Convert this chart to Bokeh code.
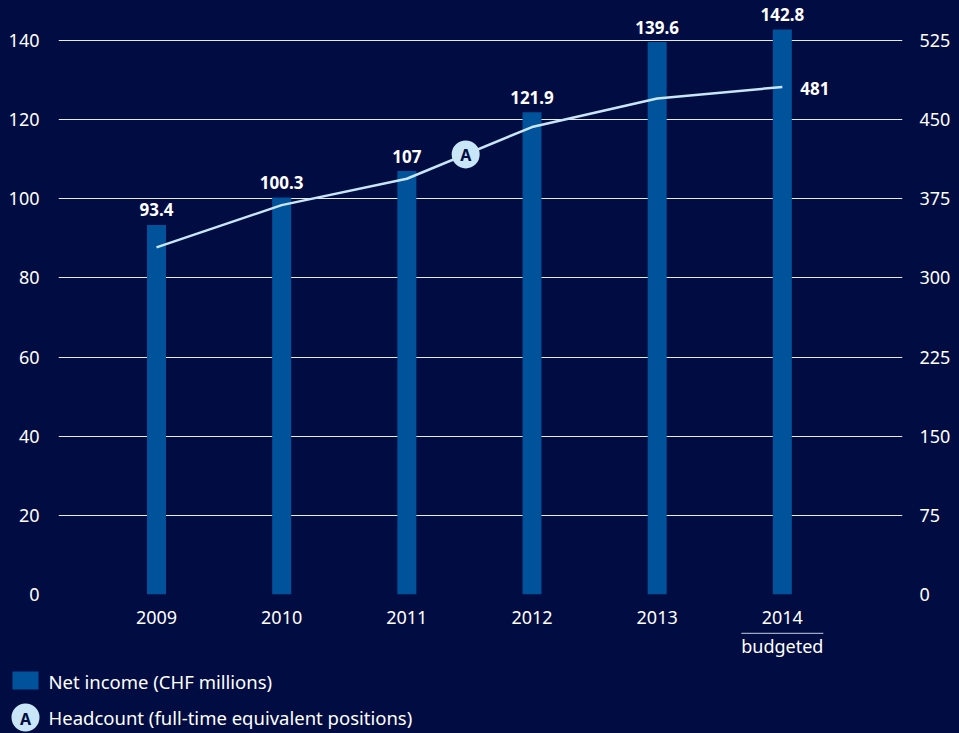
import numpy as np
from bokeh.plotting import figure
from bokeh.models import Range1d, LinearAxis, FixedTicker, Label, GlobalInlineStyleSheet
from bokeh.layouts import column
from bokeh.embed import file_html
from bokeh.resources import INLINE
from bokeh.core.properties import value

# ---------------- data ----------------
years = [2009, 2010, 2011, 2012, 2013, 2014]
net_income = [93.4, 100.3, 107.0, 121.9, 139.6, 142.8]
income_labels = ["93.4", "100.3", "107", "121.9", "139.6", "142.8"]
headcount = [329, 369, 394, 443, 470, 481]
headcount_label = "481"
left_ticks = [0, 20, 40, 60, 80, 100, 120, 140]
right_ticks = [0, 75, 150, 225, 300, 375, 450, 525]
marker_year = 2011.47
marker_text = "A"
budget_note = "budgeted"
legend_labels = ["Net income (CHF millions)", "Headcount (full-time equivalent positions)"]

# ---------------- style ----------------
BG = "#000c42"
BAR = "#00529b"
LINE = "#c8e6f7"
GRID = "#e8eaf2"
SEP = "#9ea6c2"
TXT = "#ffffff"
FONT = "Noto Sans"
TICK_SIZE = "18px"
LEGEND_SIZE = "18.5px"

W = 959
BORDER_L, BORDER_R = 58, 57
FRAME_W = W - BORDER_L - BORDER_R
MAIN_H = 632
FRAME_H = 594
X0, X1 = 2008.217, 2014.96
Y1 = 150.11
RATIO = 3.75


def style_axis(ax, standoff):
    ax.axis_line_color = None
    ax.major_tick_line_color = None
    ax.minor_tick_line_color = None
    ax.major_tick_out = 0
    ax.major_tick_in = 0
    ax.minor_tick_out = 0
    ax.minor_tick_in = 0
    ax.major_label_text_font = FONT
    ax.major_label_text_font_size = TICK_SIZE
    ax.major_label_text_color = TXT
    ax.major_label_standoff = standoff


p = figure(width=W, height=MAIN_H, x_range=Range1d(X0, X1), y_range=Range1d(0, Y1),
           output_backend="svg", toolbar_location=None,
           min_border_left=BORDER_L, min_border_right=BORDER_R,
           min_border_top=0, min_border_bottom=MAIN_H - FRAME_H,
           background_fill_color=BG, border_fill_color=BG)
p.outline_line_color = None
p.frame_align = False
p.extra_y_ranges = {"hc": Range1d(0, Y1 * RATIO)}

lax = p.yaxis[0]
lax.ticker = FixedTicker(ticks=left_ticks)
style_axis(lax, 19)
rax = LinearAxis(y_range_name="hc", ticker=FixedTicker(ticks=right_ticks))
style_axis(rax, 17)
p.add_layout(rax, "right")
xax = p.xaxis[0]
xax.ticker = FixedTicker(ticks=years)
xax.major_label_overrides = {y: str(y) for y in years}
style_axis(xax, 16)

p.xgrid.visible = False
p.ygrid.ticker = FixedTicker(ticks=left_ticks)
p.ygrid.grid_line_color = GRID
p.ygrid.grid_line_width = 1

# bars
p.vbar(x=years, top=net_income, width=0.152, fill_color=BAR, line_color=None)

# value labels
for x, v, t in zip(years, net_income, income_labels):
    crosses = any(v < g < v + 6 for g in left_ticks)
    lab = Label(x=x, y=v, text=t, y_offset=15, text_align="center", text_baseline="alphabetic",
                text_font=FONT, text_font_style="bold", text_font_size="17px", text_color=TXT,
                level="underlay")
    if crosses:
        lab.background_fill_color = BG
        lab.padding = 5
    p.add_layout(lab)

# headcount line
p.line(years, headcount, y_range_name="hc", line_color=LINE, line_width=2.5)
p.text(x=[years[-1]], y=[headcount[-1]], text=[headcount_label], y_range_name="hc",
       x_offset=18, y_offset=2, text_baseline="alphabetic", text_align="left",
       text_font=value(FONT), text_font_style="bold", text_font_size="17px", text_color=TXT)

my = float(np.interp(marker_year, years, headcount))
p.scatter(x=[marker_year], y=[my], y_range_name="hc", size=28, marker="circle",
          fill_color=LINE, line_color=None)
p.text(x=[marker_year], y=[my], text=[marker_text], y_range_name="hc",
       text_align="center", text_baseline="middle", y_offset=1,
       text_font=value(FONT), text_font_style="bold", text_font_size="16px", text_color=BG)

# ---------------- bottom strip: note + legend ----------------
ppu = FRAME_W / (X1 - X0)
bx0 = X0 - BORDER_L / ppu
bx1 = X1 + BORDER_R / ppu
BOT_H = 733 - MAIN_H


def px(v):
    return bx0 + v / ppu


b = figure(width=W, height=BOT_H, x_range=Range1d(bx0, bx1), y_range=Range1d(BOT_H, 0),
           output_backend="svg", toolbar_location=None, x_axis_type=None, y_axis_type=None,
           min_border_left=0, min_border_right=0, min_border_top=0, min_border_bottom=0,
           background_fill_color=BG, border_fill_color=BG)
b.outline_line_color = None
b.frame_align = False
b.grid.visible = False

half = 41 / ppu
b.segment(x0=[years[-1] - half], x1=[years[-1] + half], y0=[0.75], y1=[0.75],
          line_color=SEP, line_width=1.5)
b.text(x=[years[-1]], y=[13], text=[budget_note], text_align="center", text_baseline="alphabetic",
       text_font=value(FONT), text_font_size=TICK_SIZE, text_color=TXT)

b.quad(left=[px(12)], right=[px(38)], top=[39], bottom=[57], fill_color=BAR, line_color=None)
b.text(x=[px(48)], y=[49], text=[legend_labels[0]], text_align="left", text_baseline="alphabetic",
       text_font=value(FONT), text_font_size=LEGEND_SIZE, text_color=TXT)
b.scatter(x=[px(25)], y=[85], size=28, marker="circle", fill_color=LINE, line_color=None)
b.text(x=[px(25)], y=[85], text=[marker_text], text_align="center", text_baseline="middle", y_offset=1,
       text_font=value(FONT), text_font_style="bold", text_font_size="16px", text_color=BG)
b.text(x=[px(48)], y=[84.7], text=[legend_labels[1]], text_align="left", text_baseline="alphabetic",
       text_font=value(FONT), text_font_size=LEGEND_SIZE, text_color=TXT)

layout = column(p, b, spacing=0,
                stylesheets=[GlobalInlineStyleSheet(css="body { background-color: #000c42; }")])

open("out.html", "w").write(file_html(layout, INLINE))
